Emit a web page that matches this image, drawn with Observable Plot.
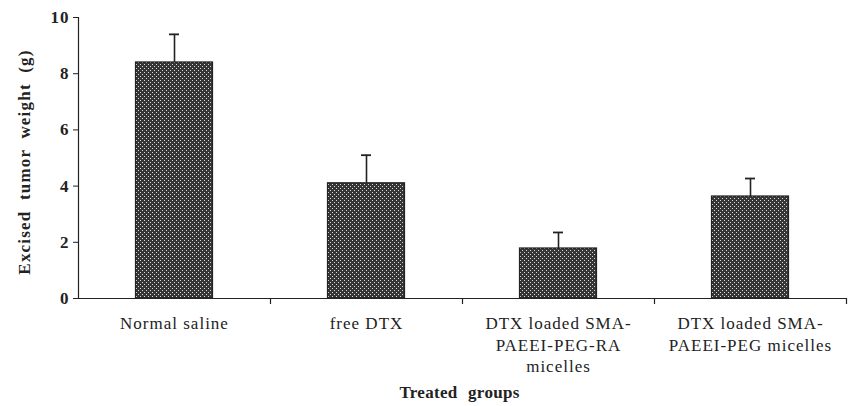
<!DOCTYPE html>
<html><head><meta charset="utf-8">
<script src="https://cdn.jsdelivr.net/npm/d3@7"></script>
<script src="https://cdn.jsdelivr.net/npm/@observablehq/plot@0.6"></script>
<style>body{margin:0;background:#fff} svg text{font-family:"Liberation Serif","Times New Roman",serif !important}</style>
</head><body><div id="chart"></div>
<script>
const categories = ["Normal saline", "free DTX", "DTX loaded SMA-\nPAEEI-PEG-RA\nmicelles", "DTX loaded SMA-\nPAEEI-PEG micelles"];
const weights = [8.4, 4.1, 1.78, 3.63];
const errors = [1.0, 1.0, 0.57, 0.64];
const yTicks = [0, 2, 4, 6, 8, 10];
const yTitle = "Excised tumor weight (g)";
const xTitle = "Treated groups";

const data = categories.map((c, i) => ({cat: c, w: weights[i], e: errors[i], top: weights[i] + errors[i]}));
const font = "'Liberation Serif', 'Times New Roman', serif";

const chart = Plot.plot({
  width: 850, height: 406,
  marginLeft: 78, marginRight: 4, marginTop: 17, marginBottom: 108,
  style: {fontFamily: font, background: "#fff", color: "#222"},
  x: {domain: categories, padding: 0, label: null},
  y: {domain: [0, 10], label: null},
  marks: [
    Plot.axisY({ticks: yTicks, tickSize: 5, tickPadding: 4, fontSize: 17, fontWeight: "bold", label: null, className: "yaxis"}),
    Plot.axisX({tickSize: 0, tickPadding: 15, fontSize: 17, lineHeight: 1.28, label: null, className: "xaxis"}),
    Plot.ruleX(data, {x: "cat", y1: "w", y2: "top", stroke: "#222", strokeWidth: 1.6}),
    Plot.tickY(data, {x: "cat", y: "top", stroke: "#222", strokeWidth: 1.8, insetLeft: 91, insetRight: 91}),
    Plot.barY(data, {x: "cat", y: "w", fill: "url(#dots)", stroke: "#222", strokeWidth: 1.2, insetLeft: 57.5, insetRight: 57.5}),
    Plot.ruleY([0], {stroke: "#222", strokeWidth: 1.2, insetLeft: -4}),
    Plot.ruleX([categories[0]], {x: d => d, dx: -96, y1: 0, y2: 10, stroke: "#222", strokeWidth: 1.2}),
    Plot.ruleX(categories, {x: d => d, dx: 96, y1: 0, y2: 0, insetBottom: -6, stroke: "#222", strokeWidth: 1.2}),
    Plot.text([yTitle], {frameAnchor: "left", textAnchor: "middle", rotate: -90, dx: -54, dy: 4, fontSize: 17, fontWeight: "bold", fill: "#222", className: "ytitle"}),
    Plot.text([xTitle], {frameAnchor: "bottom", dy: 99, dx: -3, fontSize: 17, fontWeight: "bold", fill: "#222", className: "xtitle"})
  ]
});

const svg = d3.select(chart);
svg.selectAll(".ytitle text").style("word-spacing", "5px").style("letter-spacing", "1.2px");
svg.selectAll(".xtitle text").style("word-spacing", "6px").style("letter-spacing", "0.3px");
svg.selectAll(".xaxis text").style("letter-spacing", "1px");
svg.selectAll(".yaxis text").style("letter-spacing", "1px");
const defs = svg.insert("defs", ":first-child");
const pat = defs.append("pattern").attr("id", "dots").attr("patternUnits", "userSpaceOnUse")
  .attr("width", 4).attr("height", 4);
pat.append("rect").attr("width", 4).attr("height", 4).attr("fill", "#363636");
pat.append("rect").attr("x", 0).attr("y", 0).attr("width", 1).attr("height", 1).attr("fill", "#d8d8d8");
pat.append("rect").attr("x", 2).attr("y", 2).attr("width", 1).attr("height", 1).attr("fill", "#d8d8d8");
document.getElementById("chart").appendChild(chart);
</script>
</body></html>
